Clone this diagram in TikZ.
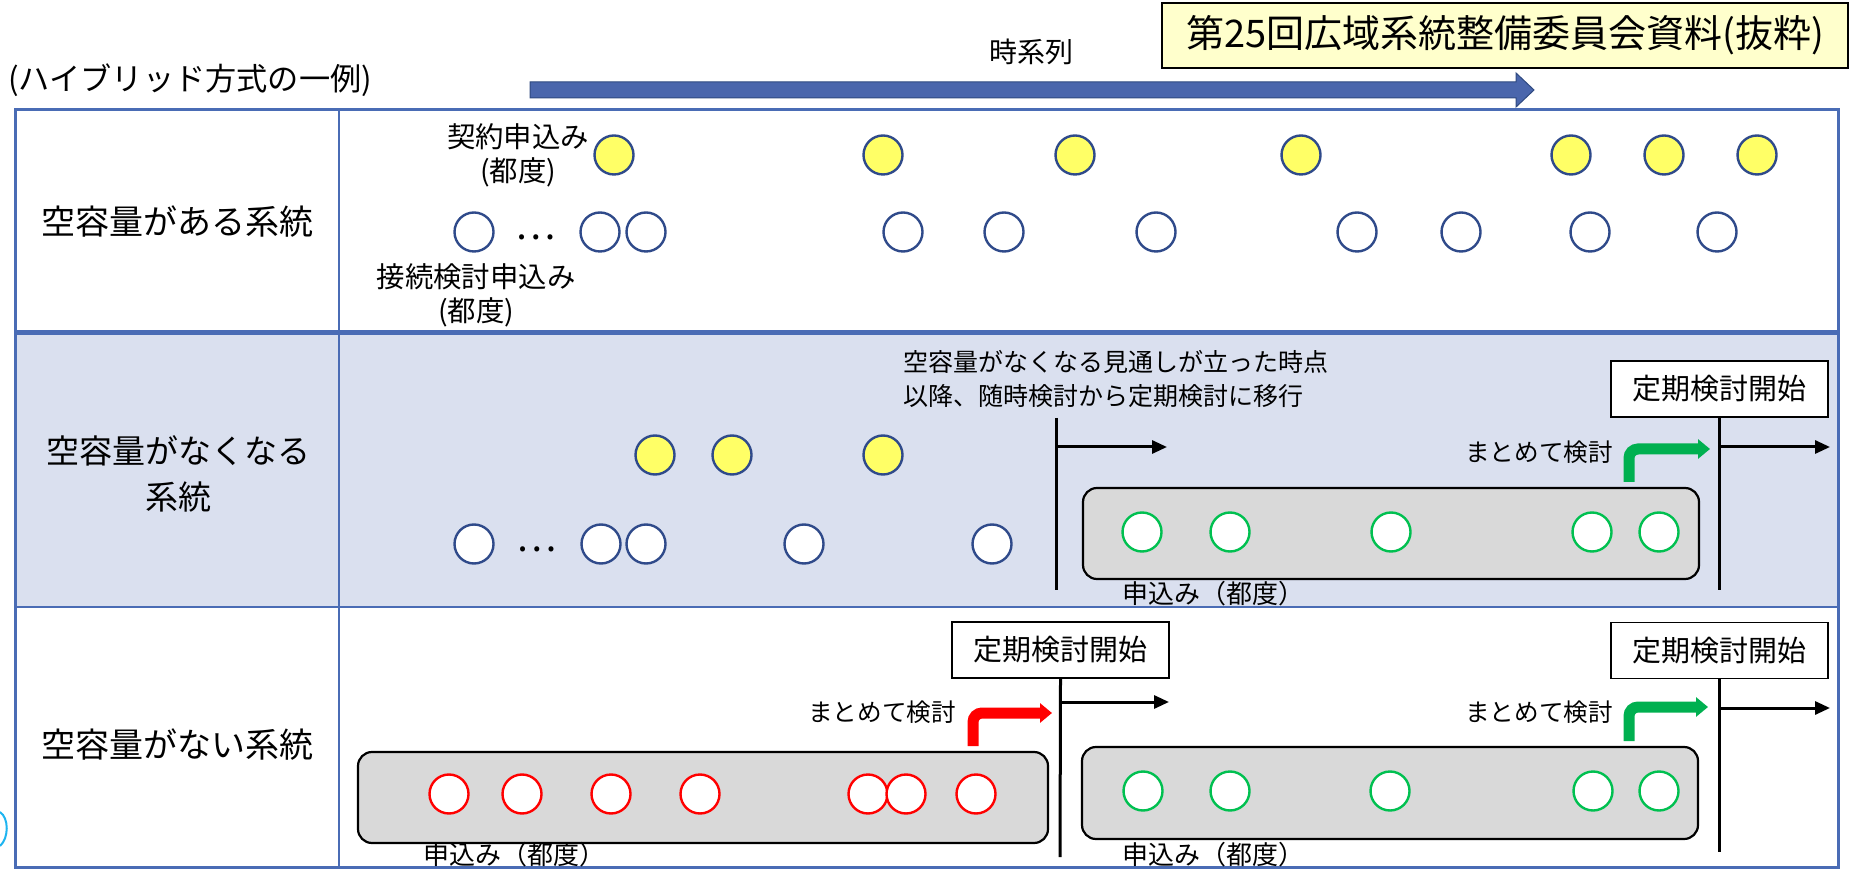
\documentclass[tikz,border=0pt]{standalone}
\usepackage{fontspec}
\setmainfont{Noto Sans CJK JP}
\usetikzlibrary{arrows.meta}
\definecolor{tblue}{HTML}{4A6CB5}
\definecolor{rowfill}{HTML}{DAE0EF}
\definecolor{cblue}{HTML}{2F4A8A}
\definecolor{cyel}{HTML}{FFFF66}
\definecolor{agreen}{HTML}{00B050}
\definecolor{cgreen}{HTML}{00C050}
\definecolor{ared}{HTML}{FF0000}
\definecolor{bxgray}{HTML}{D9D9D9}
\definecolor{arrblue}{HTML}{4A66AC}
\definecolor{arrdark}{HTML}{2F4A80}
\definecolor{titlefill}{HTML}{FFFFCC}
\definecolor{cyanfrag}{HTML}{1EB4F0}
\newcommand{\fsz}[2]{\fontsize{#1}{#2}\selectfont}
\tikzset{
  rowlab/.style={font=\fsz{17pt}{23pt}, inner sep=0, align=center},
  smalllab/.style={font=\fsz{14.2pt}{17pt}, inner sep=0, align=center},
  notelab/.style={font=\fsz{12.5pt}{17pt}, inner sep=0},
  applab/.style={font=\fsz{13pt}{16pt}, inner sep=0},
  ycirc/.style={circle, draw=cblue, fill=cyel, line width=1.2pt, minimum size=19.5pt, inner sep=0},
  wcirc/.style={circle, draw=cblue, fill=white, line width=1.2pt, minimum size=19.5pt, inner sep=0},
  gcirc/.style={circle, draw=cgreen, fill=white, line width=1.2pt, minimum size=19.5pt, inner sep=0},
  rcirc/.style={circle, draw=ared, fill=white, line width=1.2pt, minimum size=19.5pt, inner sep=0},
  graybox/.style={draw=black, fill=bxgray, line width=1.1pt, rounded corners=7pt},
  startbox/.style={draw=black, fill=white, line width=0.8pt, font=\fsz{14.5pt}{17pt}, minimum width=108.5pt, minimum height=28pt, inner sep=0},
  vline/.style={draw=black, line width=1.5pt},
  blackarrow/.style={draw=black, line width=1.5pt, -{Triangle[length=7.5pt,width=6.5pt]}},
  bentarrow/.style={line width=5.5pt, rounded corners=4.5pt, -{Triangle[length=6pt,width=9.5pt]}},
  dots/.style={font=\fsz{19pt}{20pt}, inner sep=0}
}
\begin{document}
\begin{tikzpicture}[x=0.5pt,y=-0.5pt]
\useasboundingbox (0,0) rectangle (1850,870);

% ---- header ----
\node[anchor=west, inner sep=0, font=\fsz{15.6pt}{18pt}] (hdr) at (8,80) {(ハイブリッド方式の一例)};
\node[inner sep=0, font=\fsz{14pt}{17pt}] (tlab) at (1031,52) {時系列};
\fill[arrblue, draw=arrdark, line width=0.5pt] (530,82) -- (1516,82) -- (1516,73) -- (1534,90) -- (1516,107) -- (1516,98) -- (530,98) -- cycle;
\node[draw=black, fill=titlefill, line width=0.9pt, minimum width=343pt, minimum height=32.5pt, inner sep=0, font=\fsz{19pt}{22pt}] (ttl) at (1505,35.5) {第25回広域系統整備委員会資料(抜粋)};

% ---- table ----
\fill[rowfill] (15,333) rectangle (1838,607);
\draw[tblue, line width=1.5pt] (15,110) rectangle (1838,867);
\draw[tblue, line width=2.5pt] (15,333) -- (1838,333);
\draw[tblue, line width=1.4pt] (15,607) -- (1838,607);
\draw[tblue, line width=1.4pt] (339,110) -- (339,867);
% cut-off fragment at the left edge
\draw[cyanfrag, line width=1pt] (0,812) .. controls (9,818) and (9,838) .. (0,846);

\node[rowlab] (r1) at (177,222) {空容量がある系統};
\node[rowlab, font=\fsz{16.5pt}{23pt}] (r2) at (178,474) {空容量がなくなる\\系統};
\node[rowlab] (r3) at (177,745) {空容量がない系統};

% ---- row 1 ----
\node[smalllab] (keiyaku) at (518,155) {契約申込み\\(都度)};
\node[smalllab] (setsuzoku) at (476,295) {接続検討申込み\\(都度)};
\foreach \x [count=\i] in {614,883,1075,1301,1571,1664,1757}
  \node[ycirc] (ya\i) at (\x,155) {};
\foreach \x [count=\i] in {474,600,646,903,1004,1156,1357,1461,1590,1717}
  \node[wcirc] (wa\i) at (\x,232) {};
\node[dots] (da) at (536,237) {…};

% ---- row 2 ----
\node[notelab, anchor=west, align=left] (note) at (903,379) {空容量がなくなる見通しが立った時点\\以降、随時検討から定期検討に移行};
\foreach \x [count=\i] in {655,732,883}
  \node[ycirc] (yb\i) at (\x,455) {};
\foreach \x [count=\i] in {474,601,646,804,992}
  \node[wcirc] (wb\i) at (\x,544) {};
\node[dots] (db) at (537,549) {…};

\coordinate (v1top) at (1056,418);
\coordinate (v1bot) at (1056,590);
\draw[vline] (v1top) -- (v1bot);
\coordinate (a1s) at (1056,447);
\coordinate (a1e) at (1167,447);
\draw[blackarrow] (a1s) -- (a1e);

\node[graybox, minimum width=308pt, minimum height=45.5pt] (gb2) at (1391,533.5) {};
\foreach \x [count=\i] in {1142,1230,1391,1592,1659}
  \node[gcirc] (gb\i) at (\x,532) {};
\node[applab] (ap2) at (1213,594) {申込み（都度）};

\node[startbox] (sb2) at (1719.5,389) {定期検討開始};
\coordinate (v2bot) at (1719,590);
\draw[vline] (sb2.south -| v2bot) -- (v2bot);
\coordinate (a2s) at (1719,447);
\coordinate (a2e) at (1830,447);
\draw[blackarrow] (a2s) -- (a2e);

\node[applab, font=\fsz{12.3pt}{16pt}] (mt2) at (1539,452) {まとめて検討};
\coordinate (g2s) at (1629,482);
\coordinate (g2e) at (1710,449);
\draw[bentarrow, agreen] (g2s) |- (g2e);

% ---- row 3 ----
\node[graybox, minimum width=345pt, minimum height=45.5pt] (gr1) at (703,797.5) {};
\foreach \x [count=\i] in {449,522,611,700,868,906,976}
  \node[rcirc] (rc\i) at (\x,794) {};
\node[applab] (ap3a) at (514,855) {申込み（都度）};

\node[applab, font=\fsz{12.3pt}{16pt}] (mt3a) at (882,712) {まとめて検討};
\coordinate (r3s) at (973,746);
\coordinate (r3e) at (1052,713);
\draw[bentarrow, ared] (r3s) |- (r3e);

\node[startbox] (sb3a) at (1060.5,650) {定期検討開始};
\coordinate (v3bot) at (1060,857);
\draw[vline] (sb3a.south) -- (v3bot);
\coordinate (a3s) at (1060,702);
\coordinate (a3e) at (1169,702);
\draw[blackarrow] (a3s) -- (a3e);

\node[graybox, minimum width=308pt, minimum height=46pt] (gr2) at (1390,793) {};
\foreach \x [count=\i] in {1143,1230,1390,1593,1659}
  \node[gcirc] (gc\i) at (\x,791) {};
\node[applab] (ap3b) at (1213,855) {申込み（都度）};

\node[startbox] (sb3b) at (1719.5,650.5) {定期検討開始};
\coordinate (v4bot) at (1719,852);
\draw[vline] (sb3b.south -| v4bot) -- (v4bot);
\coordinate (a4s) at (1719,708);
\coordinate (a4e) at (1830,708);
\draw[blackarrow] (a4s) -- (a4e);

\node[applab, font=\fsz{12.3pt}{16pt}] (mt3b) at (1539,712) {まとめて検討};
\coordinate (g3s) at (1629,741);
\coordinate (g3e) at (1708,707);
\draw[bentarrow, agreen] (g3s) |- (g3e);
\end{tikzpicture}
\end{document}
